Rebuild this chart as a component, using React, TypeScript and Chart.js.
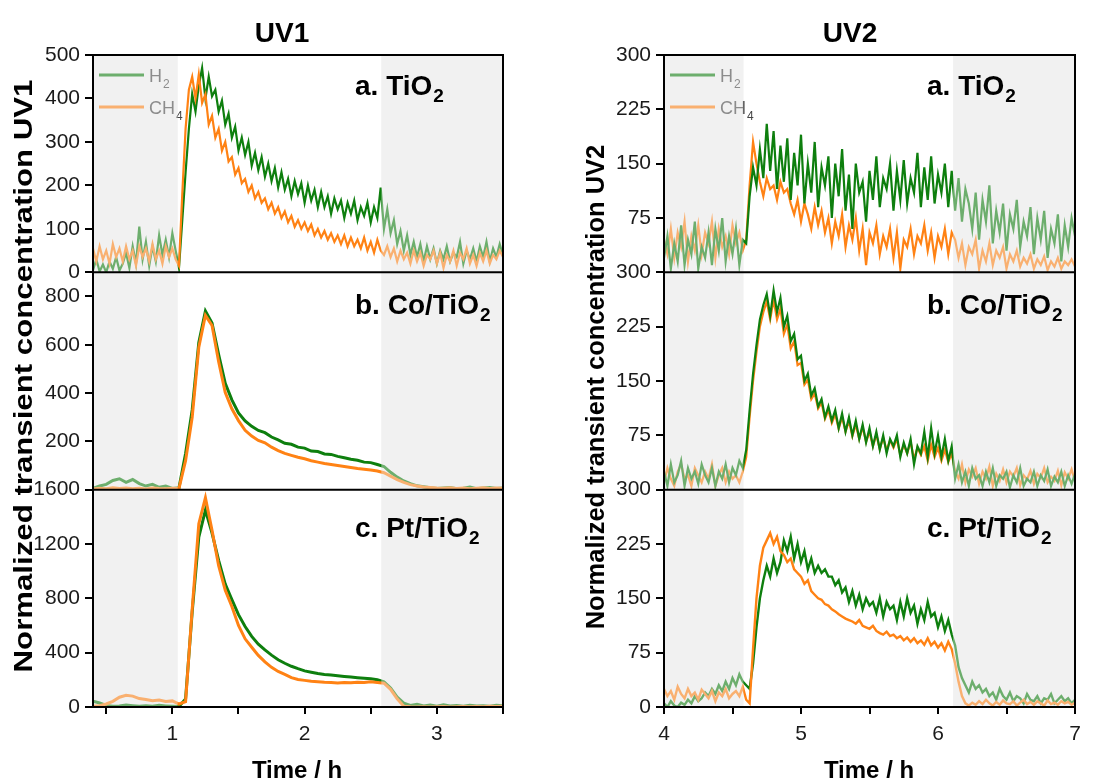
import React, { useEffect, useRef } from "react";
import { Chart, registerables } from "chart.js";

Chart.register(...registerables);

const FONT = '"Liberation Sans", Arial, Helvetica, sans-serif';
const GREEN = "#0e7f0e";
const ORANGE = "#ff8214";

// ---------- UV1 (left column) ----------
// fine sampling (panel a, noisy)
const uv1TimeFine = [
  0.4, 0.425, 0.45, 0.475, 0.5, 0.525, 0.55, 0.575, 0.6, 0.625,
  0.65, 0.675, 0.7, 0.725, 0.75, 0.775, 0.8, 0.825, 0.85, 0.875,
  0.9, 0.925, 0.95, 0.975, 1.0, 1.025, 1.05, 1.075, 1.1, 1.125,
  1.15, 1.175, 1.2, 1.225, 1.25, 1.275, 1.3, 1.325, 1.35, 1.375,
  1.4, 1.425, 1.45, 1.475, 1.5, 1.525, 1.55, 1.575, 1.6, 1.625,
  1.65, 1.675, 1.7, 1.725, 1.75, 1.775, 1.8, 1.825, 1.85, 1.875,
  1.9, 1.925, 1.95, 1.975, 2.0, 2.025, 2.05, 2.075, 2.1, 2.125,
  2.15, 2.175, 2.2, 2.225, 2.25, 2.275, 2.3, 2.325, 2.35, 2.375,
  2.4, 2.425, 2.45, 2.475, 2.5, 2.525, 2.55, 2.575, 2.6, 2.625,
  2.65, 2.675, 2.7, 2.725, 2.75, 2.775, 2.8, 2.825, 2.85, 2.875,
  2.9, 2.925, 2.95, 2.975, 3.0, 3.025, 3.05, 3.075, 3.1, 3.125,
  3.15, 3.175, 3.2, 3.225, 3.25, 3.275, 3.3, 3.325, 3.35, 3.375,
  3.4, 3.425, 3.45, 3.475, 3.5,
];
// coarse sampling (panels b and c, smooth)
const uv1Time = [
  0.4, 0.45, 0.5, 0.55, 0.6, 0.65, 0.7, 0.75, 0.8, 0.85,
  0.9, 0.95, 1.0, 1.05, 1.1, 1.15, 1.2, 1.25, 1.3, 1.35,
  1.4, 1.45, 1.5, 1.55, 1.6, 1.65, 1.7, 1.75, 1.8, 1.85,
  1.9, 1.95, 2.0, 2.05, 2.1, 2.15, 2.2, 2.25, 2.3, 2.35,
  2.4, 2.45, 2.5, 2.55, 2.6, 2.65, 2.7, 2.75, 2.8, 2.85,
  2.9, 2.95, 3.0, 3.05, 3.1, 3.15, 3.2, 3.25, 3.3, 3.35,
  3.4, 3.45, 3.5,
];
const uv1TiO2H2 = [
  5, 30, 2, 18, 0, 25, 8, 35, 4, 20,
  45, 10, 60, 20, 105, 30, 70, 15, 60, 25,
  85, 40, 75, 35, 90, 50,
  10, 120, 230, 330, 410, 370, 430, 470, 400, 450,
  405, 420, 370, 395, 340, 365, 310, 335, 280, 310,
  270, 300, 245, 275, 235, 265, 220, 250, 210, 240,
  195, 230, 190, 215, 175, 210, 180, 205, 160, 200,
  165, 190, 150, 185, 150, 175, 135, 170, 145, 165,
  125, 160, 135, 165, 120, 150, 130, 160, 115, 150,
  125, 195,
  100, 145, 90, 120, 65, 95, 50, 85, 40, 70,
  35, 65, 25, 60, 30, 55, 20, 50, 30, 60,
  25, 45, 35, 70, 20, 50, 30, 55, 25, 60,
  35, 70, 25, 55, 35, 65, 40,
];
const uv1TiO2CH4 = [
  55, 25, 60, 30, 50, 20, 65, 35, 55, 25,
  60, 30, 50, 15, 60, 35, 55, 25, 65, 30,
  50, 20, 60, 35, 55, 30,
  15, 180, 330, 420, 450, 400, 455, 390, 410, 340,
  360, 310, 330, 280, 300, 255, 265, 225, 240, 205,
  215, 185, 200, 170, 185, 160, 170, 145, 160, 135,
  150, 125, 140, 115, 130, 105, 120, 100, 115, 95,
  110, 85, 100, 80, 95, 75, 90, 70, 85, 65,
  85, 60, 80, 60, 75, 55, 80, 50, 70, 45,
  75, 50,
  40, 60, 35, 55, 25, 50, 30, 45, 20, 50,
  25, 45, 15, 40, 30, 50, 20, 45, 10, 40,
  25, 50, 15, 45, 30, 55, 20, 40, 15, 45,
  25, 50, 20, 40, 30, 50, 35,
];
const uv1CoH2 = [
  5, 15, 22, 38, 45, 30, 42, 25, 15, 22,
  10, 15, 5, 8, 150, 330, 610, 740, 690, 560,
  440, 372, 318, 285, 262, 245, 236, 218, 206, 192,
  188, 176, 172, 160, 158, 148, 146, 138, 132, 126,
  122, 114, 112, 104, 96, 72, 52, 36, 25, 16,
  12, 8, 5, 7, 9, 4, 6, 11, 4, 7,
  9, 5, 7,
];
const uv1CoCH4 = [
  3, 6, 4, 8, 5, 7, 4, 6, 3, 7,
  5, 4, 6, 5, 120, 300, 590, 722, 680, 530,
  402, 335, 286, 246, 222, 204, 194, 176, 162, 150,
  142, 134, 128, 120, 114, 108, 104, 100, 96, 92,
  88, 85, 81, 77, 70, 56, 42, 30, 21, 15,
  11, 9, 7, 6, 8, 5, 7, 4, 6, 8,
  5, 7, 6,
];
const uv1PtH2 = [
  42, 30, 12, 5, 8, 15, 10, 5, 10, 5,
  12, 8, 5, 3, 60, 700, 1250, 1450, 1280, 1080,
  905, 790, 680, 592, 520, 462, 420, 382, 348, 322,
  300, 282, 266, 256, 246, 240, 236, 230, 225, 220,
  216, 212, 208, 200, 186, 140, 72, 28, 12, 20,
  8, 14, 6, 16, 8, 11, 5, 13, 8, 10,
  6, 12, 10,
];
const uv1PtCH4 = [
  5, 10, 22, 42, 72, 86, 80, 62, 55, 46,
  52, 40, 45, 22, 40, 720, 1350, 1540, 1300, 1040,
  860, 740, 600, 502, 440, 380, 332, 292, 262, 240,
  216, 202, 196, 190, 186, 182, 180, 177, 181, 178,
  183, 180, 186, 181, 175, 130, 60, 6, 1, 0,
  2, 0, 1, 3, 0, 2, 4, 1, 3, 2,
  5, 3, 5,
];

// ---------- UV2 (right column) ----------
const uv2TimeFine = [
  4.0, 4.025, 4.05, 4.075, 4.1, 4.125, 4.15, 4.175, 4.2, 4.225,
  4.25, 4.275, 4.3, 4.325, 4.35, 4.375, 4.4, 4.425, 4.45, 4.475,
  4.5, 4.525, 4.55, 4.575, 4.6, 4.625, 4.65, 4.675, 4.7, 4.725,
  4.75, 4.775, 4.8, 4.825, 4.85, 4.875, 4.9, 4.925, 4.95, 4.975,
  5.0, 5.025, 5.05, 5.075, 5.1, 5.125, 5.15, 5.175, 5.2, 5.225,
  5.25, 5.275, 5.3, 5.325, 5.35, 5.375, 5.4, 5.425, 5.45, 5.475,
  5.5, 5.525, 5.55, 5.575, 5.6, 5.625, 5.65, 5.675, 5.7, 5.725,
  5.75, 5.775, 5.8, 5.825, 5.85, 5.875, 5.9, 5.925, 5.95, 5.975,
  6.0, 6.025, 6.05, 6.075, 6.1, 6.125, 6.15, 6.175, 6.2, 6.225,
  6.25, 6.275, 6.3, 6.325, 6.35, 6.375, 6.4, 6.425, 6.45, 6.475,
  6.5, 6.525, 6.55, 6.575, 6.6, 6.625, 6.65, 6.675, 6.7, 6.725,
  6.75, 6.775, 6.8, 6.825, 6.85, 6.875, 6.9, 6.925, 6.95, 6.975,
  7.0,
];
const uv2TiO2H2 = [
  20, 50, 5, 40, 15, 65, 10, 45, 25, 70,
  5, 35, 20, 55, 10, 60, 30, 75, 15, 50,
  25, 60, 10, 45,
  40, 105, 145, 120, 170, 130, 205, 140, 195, 115,
  175, 125, 185, 100, 165, 120, 190, 95, 150, 110,
  180, 90, 145, 120, 160, 75, 150, 105, 170, 85,
  135, 60, 150, 110, 125, 70, 140, 100, 160, 90,
  130, 115, 150, 85, 140, 100, 155, 95, 130, 110,
  165, 90, 145, 100, 160, 95, 135, 110, 150, 90,
  140,
  85, 130, 70, 115, 95, 60, 110, 45, 100, 70,
  120, 40, 85, 55, 95, 30, 80, 60, 100, 35,
  70, 50, 90, 25, 75, 45, 85, 20, 60, 40,
  80, 15, 65, 35, 75, 50,
];
const uv2TiO2CH4 = [
  45, 25, 60, 20, 55, 35, 70, 15, 50, 30,
  65, 25, 55, 40, 70, 20, 60, 35, 50, 25,
  65, 40, 55, 30,
  45, 120, 180, 150, 125, 105, 130, 115, 120, 100,
  125, 110, 115, 95, 80, 100, 70, 95, 80, 60,
  90, 65, 85, 55, 75, 40, 70, 50, 80, 35,
  65, 45, 75, 30, 60, 10, 55, 40, 65, 25,
  50, 35, 60, 20, 55, 5, 45, 35, 60, 25,
  50, 40, 65, 30, 55, 20, 50, 35, 60, 25,
  55,
  45, 20, 40, 10, 35, 25, 45, 5, 30, 15,
  40, 10, 30, 20, 35, 5, 25, 15, 30, 8,
  20, 12, 25, 5, 18, 10, 22, 3, 15, 8,
  20, 5, 15, 10, 18, 8,
];
const uv2CoH2 = [
  25, 5, 35, 10, 20, 40, 5, 30, 15, 25,
  8, 35, 20, 10, 30, 5, 25, 15, 35, 10,
  30, 20, 40, 30,
  55, 110, 160, 200, 235, 255, 270, 240, 275, 245,
  265, 225, 240, 205, 215, 180, 185, 150, 160, 130,
  140, 115, 125, 100, 115, 95, 110, 85, 105, 80,
  100, 75, 95, 70, 90, 65, 85, 60, 80, 55,
  75, 50, 70, 60, 75, 45, 65, 50, 70, 35,
  60, 50, 80, 45, 85, 50, 75, 45, 70, 40,
  60,
  15, 35, 10, 25, 5, 30, 15, 20, 5, 25,
  10, 30, 5, 20, 15, 25, 3, 20, 10, 30,
  5, 15, 10, 25, 5, 20, 12, 28, 5, 18,
  10, 25, 5, 20, 8, 22,
];
const uv2CoCH4 = [
  10, 30, 15, 5, 25, 35, 15, 20, 5, 30,
  20, 10, 25, 15, 35, 5, 20, 30, 10, 25,
  15, 20, 10, 25,
  45, 100, 150, 190, 225, 245, 260, 235, 262, 235,
  250, 215, 228, 195, 205, 172, 175, 145, 152, 125,
  133, 112, 120, 98, 110, 92, 104, 84, 100, 80,
  95, 74, 90, 70, 86, 66, 80, 60, 76, 56,
  72, 54, 68, 58, 70, 48, 62, 50, 66, 42,
  58, 48, 60, 40, 62, 45, 58, 40, 55, 38,
  50,
  25, 15, 35, 10, 28, 18, 30, 8, 25, 15,
  32, 5, 22, 12, 28, 10, 25, 18, 30, 6,
  20, 14, 26, 8, 22, 16, 30, 10, 18, 12,
  26, 6, 24, 15, 28, 12,
];
const uv2PtH2 = [
  5, 0, 8, 2, 0, 6, 3, 10, 5, 15,
  8, 12, 20, 15, 25, 18, 30, 22, 35, 25,
  40, 30, 45, 35,
  30, 25, 60, 110, 150, 175, 195, 180, 205, 185,
  200, 230, 215, 235, 205, 225, 200, 215, 190, 205,
  185, 195, 185, 190, 180, 180, 168, 175, 158, 165,
  145, 160, 140, 155, 135, 150, 140, 145, 130, 150,
  125, 145, 135, 140, 120, 145, 125, 150, 130, 140,
  115, 135, 120, 145, 125, 130, 110, 125, 105, 120,
  100,
  85, 55, 40, 30, 20, 35, 25, 30, 20, 25,
  15, 20, 10, 25, 15, 10, 20, 8, 15, 12,
  5, 18, 10, 8, 15, 5, 12, 10, 18, 5,
  10, 15, 8, 12, 5, 10,
];
const uv2PtCH4 = [
  25, 15, 22, 10, 28, 18, 12, 25, 15, 20,
  10, 24, 18, 12, 22, 8, 20, 15, 25, 12,
  18, 22, 15, 28,
  10, 5, 80, 150, 195, 220, 230, 240, 225, 235,
  215, 210, 200, 205, 190, 185, 180, 170, 175, 160,
  155, 150, 148, 142, 140, 135, 132, 128, 125, 122,
  120, 118, 115, 120, 112, 110, 108, 112, 105, 102,
  100, 104, 98, 100, 95, 98, 92, 96, 90, 95,
  88, 92, 86, 95, 85, 90, 82, 88, 78, 90,
  80,
  60, 35, 15, 5, 2, 6, 3, 8, 4, 10,
  5, 2, 7, 3, 9, 5, 4, 8, 2, 6,
  10, 4, 7, 3, 8, 5, 2, 9, 4, 6,
  3, 8, 5, 7, 3, 6,
];

// ---------- axes / labels ----------
const uv1YMax = [500, 900, 1600];
const uv1YTicks = [
  [0, 100, 200, 300, 400, 500],
  [200, 400, 600, 800],
  [0, 400, 800, 1200, 1600],
];
const uv2YMax = [300, 300, 300];
const uv2YTicks = [
  [75, 150, 225, 300],
  [75, 150, 225, 300],
  [0, 75, 150, 225, 300],
];
const uv1XTicks = [0.5, 1, 1.5, 2, 2.5, 3, 3.5];
const uv2XTicks = [4, 4.5, 5, 5.5, 6, 6.5, 7];
const uv1Dark = [
  [0.4, 1.04],
  [2.58, 3.5],
];
const uv2Dark = [
  [4, 4.58],
  [6.11, 7],
];
const panelNames = [
  ["a. TiO", "2"],
  ["b. Co/TiO", "2"],
  ["c. Pt/TiO", "2"],
];
const seriesNames = [
  ["H", "2"],
  ["CH", "4"],
];

type Col = {
  times: number[][];
  h2: number[][];
  ch4: number[][];
  lineWidths: number[];
  yMax: number[];
  yTicks: number[][];
  xMin: number;
  xMax: number;
  xTicks: number[];
  dark: number[][];
  title: string;
  yTitle: string;
  width: number;
  padLeft: number;
  padRight: number;
  titleX: number;
  xTitleX: number;
  yTitleX: number;
  yTitleY: number;
  yTitleSize: number;
  yTitleStretch: number;
  h2Top: boolean[];
};

const colUV1: Col = {
  times: [uv1TimeFine, uv1Time, uv1Time],
  h2: [uv1TiO2H2, uv1CoH2, uv1PtH2],
  ch4: [uv1TiO2CH4, uv1CoCH4, uv1PtCH4],
  lineWidths: [2.2, 3, 3],
  yMax: uv1YMax,
  yTicks: uv1YTicks,
  xMin: 0.4,
  xMax: 3.5,
  xTicks: uv1XTicks,
  dark: uv1Dark,
  title: "UV1",
  yTitle: "Normalized transient concentration UV1",
  width: 560,
  padLeft: 33,
  padRight: 57,
  titleX: 282,
  xTitleX: 297,
  yTitleX: 25,
  yTitleY: 376,
  yTitleSize: 26,
  yTitleStretch: 1.2,
  h2Top: [false, false, false],
};

const colUV2: Col = {
  times: [uv2TimeFine, uv2TimeFine, uv2TimeFine],
  h2: [uv2TiO2H2, uv2CoH2, uv2PtH2],
  ch4: [uv2TiO2CH4, uv2CoCH4, uv2PtCH4],
  lineWidths: [2.2, 2.2, 2.4],
  yMax: uv2YMax,
  yTicks: uv2YTicks,
  xMin: 4,
  xMax: 7,
  xTicks: uv2XTicks,
  dark: uv2Dark,
  title: "UV2",
  yTitle: "Normalized transient concentration UV2",
  width: 558,
  padLeft: 44,
  padRight: 43,
  titleX: 290,
  xTitleX: 309,
  yTitleX: 37,
  yTitleY: 387,
  yTitleSize: 25,
  yTitleStretch: 1.02,
  h2Top: [true, true, false],
};

const Y_IDS = ["ya", "yb", "yc"];
const LABEL_OFFSETS = [40, 42, 47];

function drawSub(
  ctx: CanvasRenderingContext2D,
  main: string,
  sub: string,
  x: number,
  y: number,
  size: number,
  subSize: number,
  dy: number,
  color: string,
  weight: string
) {
  ctx.fillStyle = color;
  ctx.textAlign = "left";
  ctx.textBaseline = "alphabetic";
  ctx.font = `${weight}${size}px ${FONT}`;
  ctx.fillText(main, x, y);
  const w = ctx.measureText(main).width;
  ctx.font = `${weight}${subSize}px ${FONT}`;
  ctx.fillText(sub, x + w + 1, y + dy);
}

function makeChart(canvas: HTMLCanvasElement, col: Col) {
  const scales: any = {
    x: {
      type: "linear",
      position: "bottom",
      min: col.xMin,
      max: col.xMax,
      afterBuildTicks: (s: any) => {
        s.ticks = col.xTicks.map((v) => ({ value: v }));
      },
      afterFit: (s: any) => {
        s.height = 75;
      },
      ticks: {
        autoSkip: false,
        maxRotation: 0,
        padding: 8,
        color: "#1a1a1a",
        font: { family: FONT, size: 21 },
        callback: (v: any) => (Number.isInteger(v) ? String(v) : ""),
      },
      grid: {
        drawOnChartArea: false,
        drawTicks: true,
        tickLength: 7,
        color: "#000",
        lineWidth: 2,
      },
      border: { display: false },
    },
  };
  Y_IDS.forEach((id, k) => {
    scales[id] = {
      type: "linear",
      position: "left",
      stack: "col",
      stackWeight: 1,
      weight: 3 - k,
      min: 0,
      max: col.yMax[k],
      afterBuildTicks: (s: any) => {
        s.ticks = col.yTicks[k].map((v) => ({ value: v }));
      },
      afterFit: (s: any) => {
        s.width = 60;
      },
      ticks: {
        autoSkip: false,
        padding: 5,
        color: "#1a1a1a",
        font: { family: FONT, size: 21 },
        callback: (v: any) => String(v),
      },
      grid: {
        drawOnChartArea: false,
        drawTicks: true,
        tickLength: 8,
        color: "#000",
        lineWidth: 2,
      },
      border: { display: false },
    };
  });

  const datasets: any[] = [];
  Y_IDS.forEach((id, k) => {
    const top = col.h2Top[k];
    const t = col.times[k];
    datasets.push({
      label: "H2",
      data: t.map((x, i) => ({ x, y: col.h2[k][i] })),
      xAxisID: "x",
      yAxisID: id,
      borderColor: GREEN,
      borderWidth: col.lineWidths[k],
      pointRadius: 0,
      tension: 0,
      fill: false,
      order: top ? 1 : 2,
    });
    datasets.push({
      label: "CH4",
      data: t.map((x, i) => ({ x, y: col.ch4[k][i] })),
      xAxisID: "x",
      yAxisID: id,
      borderColor: ORANGE,
      borderWidth: col.lineWidths[k],
      pointRadius: 0,
      tension: 0,
      fill: false,
      order: top ? 2 : 1,
    });
  });

  const decor = {
    id: "decor",
    beforeDatasetsDraw(chart: any) {
      const { ctx, chartArea: ca } = chart;
      const xs = chart.scales.x;
      ctx.save();
      ctx.fillStyle = "#f1f1f1";
      col.dark.forEach(([a, b]) => {
        const x0 = xs.getPixelForValue(a);
        const x1 = xs.getPixelForValue(b);
        ctx.fillRect(x0, ca.top, x1 - x0, ca.bottom - ca.top);
      });
      const ya = chart.scales.ya;
      const lx = ca.left + 6;
      const items: [string, string[], number][] = [
        [GREEN, seriesNames[0], 20],
        [ORANGE, seriesNames[1], 52],
      ];
      items.forEach(([c, nm, dy]) => {
        const y = ya.top + dy;
        ctx.strokeStyle = c;
        ctx.lineWidth = 3;
        ctx.beginPath();
        ctx.moveTo(lx, y);
        ctx.lineTo(lx + 45, y);
        ctx.stroke();
        drawSub(ctx, nm[0], nm[1], lx + 50, y + 7, 18, 12, 6, "#444", "");
      });
      ctx.restore();
    },
    afterDatasetsDraw(chart: any) {
      const { ctx, chartArea: ca } = chart;
      const xs = chart.scales.x;
      ctx.save();
      ctx.fillStyle = "rgba(241,241,241,0.42)";
      col.dark.forEach(([a, b]) => {
        const x0 = xs.getPixelForValue(a);
        const x1 = xs.getPixelForValue(b);
        ctx.fillRect(x0, ca.top, x1 - x0, ca.bottom - ca.top);
      });
      ctx.restore();
    },
    afterDraw(chart: any) {
      const { ctx, chartArea: ca } = chart;
      ctx.save();
      ctx.strokeStyle = "#000";
      ctx.lineWidth = 2;
      ctx.strokeRect(ca.left, ca.top, ca.right - ca.left, ca.bottom - ca.top);
      ["ya", "yb"].forEach((id) => {
        const y = chart.scales[id].bottom;
        ctx.beginPath();
        ctx.moveTo(ca.left, y);
        ctx.lineTo(ca.right, y);
        ctx.stroke();
      });
      Y_IDS.forEach((id, k) => {
        const s = chart.scales[id];
        drawSub(
          ctx,
          panelNames[k][0],
          panelNames[k][1],
          ca.right - 148,
          s.top + LABEL_OFFSETS[k],
          28,
          19,
          7,
          "#000",
          "bold "
        );
      });
      ctx.fillStyle = "#000";
      ctx.textAlign = "center";
      ctx.textBaseline = "alphabetic";
      ctx.font = `bold 28px ${FONT}`;
      ctx.fillText(col.title, col.titleX, 42);
      ctx.font = `bold 24px ${FONT}`;
      ctx.fillText("Time / h", col.xTitleX, 778);
      ctx.save();
      ctx.translate(col.yTitleX, col.yTitleY);
      ctx.rotate(-Math.PI / 2);
      ctx.scale(col.yTitleStretch, 1);
      ctx.textBaseline = "middle";
      ctx.font = `bold ${col.yTitleSize}px ${FONT}`;
      ctx.fillText(col.yTitle, 0, 0);
      ctx.restore();
      ctx.restore();
    },
  };

  return new Chart(canvas, {
    type: "line",
    data: { datasets },
    options: {
      responsive: false,
      animation: false,
      events: [],
      layout: {
        padding: { left: col.padLeft, right: col.padRight, top: 55, bottom: 0 },
      },
      plugins: {
        legend: { display: false },
        tooltip: { enabled: false },
        title: { display: false },
      },
      scales,
    },
    plugins: [decor],
  } as any);
}

function Column({ col, left }: { col: Col; left: number }) {
  const ref = useRef<HTMLCanvasElement | null>(null);
  useEffect(() => {
    if (!ref.current) return;
    const chart = makeChart(ref.current, col);
    return () => chart.destroy();
  }, [col]);
  return (
    <canvas
      ref={ref}
      width={col.width}
      height={782}
      style={{ position: "absolute", left, top: 0, width: col.width, height: 782 }}
    />
  );
}

export default function App() {
  return (
    <div
      style={{
        position: "absolute",
        left: 0,
        top: 0,
        width: 1118,
        height: 782,
        background: "#fff",
        overflow: "hidden",
      }}
    >
      <Column col={colUV1} left={0} />
      <Column col={colUV2} left={560} />
    </div>
  );
}
